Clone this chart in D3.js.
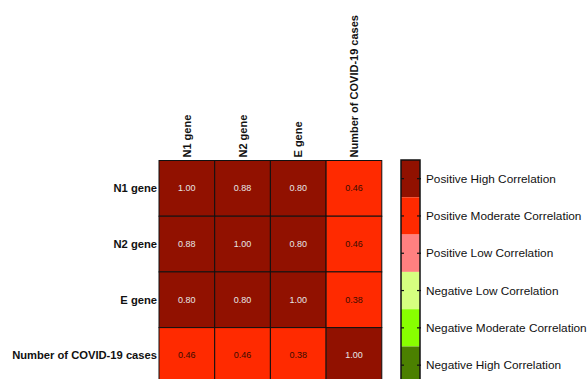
<!DOCTYPE html>
<html>
<head>
<meta charset="utf-8">
<script src="https://cdn.jsdelivr.net/npm/d3@7"></script>
<style>
  body { margin: 0; background: #fff; }
  text { font-family: "Liberation Sans", Arial, sans-serif; }
</style>
</head>
<body>
<div id="chart"></div>
<script>
// Data
var variables = ['N1 gene', 'N2 gene', 'E gene', 'Number of COVID-19 cases'];
var correlations = [
    [1.00, 0.88, 0.80, 0.46],
    [0.88, 1.00, 0.80, 0.46],
    [0.80, 0.80, 1.00, 0.38],
    [0.46, 0.46, 0.38, 1.00]
];
var legend_labels = ['Positive High Correlation', 'Positive Moderate Correlation',
    'Positive Low Correlation', 'Negative Low Correlation',
    'Negative Moderate Correlation', 'Negative High Correlation'];
var legend_colors = ['#911100', '#ff2a00', '#ff8080', '#d6ff80', '#88ff00', '#4b8000'];
var legend_bounds = [0.7, 0.3, 0, -0.3, -0.7];

var chart_width  = 588;
var chart_height = 379;

var svg = d3.select('#chart')
    .append('svg')
    .attr('width', chart_width)
    .attr('height', chart_height);

// cells
var cell = 55.7;
var grid_x = 159;
var grid_y = 160.5;

var x = d3.scaleBand()
    .domain(variables)
    .range([grid_x, grid_x + cell * variables.length]);

var y = d3.scaleBand()
    .domain(variables)
    .range([grid_y, grid_y + cell * variables.length]);

// thresholds from high to low -> colour
var color = d3.scaleThreshold()
    .domain(legend_bounds.slice().reverse())
    .range(legend_colors.slice().reverse());

var cells = [];
correlations.forEach(function(row, i){
    row.forEach(function(v, j){
        cells.push({ row: variables[i], col: variables[j], value: v });
    });
});

svg.append('g')
    .selectAll('rect')
    .data(cells)
    .enter()
    .append('rect')
    .attr('x', function(d){ return x(d.col); })
    .attr('y', function(d){ return y(d.row); })
    .attr('width', x.bandwidth())
    .attr('height', y.bandwidth())
    .attr('fill', function(d){ return color(d.value); })
    .attr('stroke', '#111')
    .attr('stroke-width', 1);

svg.append('g')
    .selectAll('text')
    .data(cells)
    .enter()
    .append('text')
    .attr('x', function(d){ return x(d.col) + x.bandwidth() / 2; })
    .attr('y', function(d){ return y(d.row) + y.bandwidth() / 2 + 3; })
    .attr('text-anchor', 'middle')
    .attr('font-size', '9px')
    .attr('fill', function(d){ return d.value >= 0.7 ? '#e6e6e6' : '#3a0c00'; })
    .text(function(d){ return d.value.toFixed(2); });

// row labels
svg.append('g')
    .selectAll('text')
    .data(variables)
    .enter()
    .append('text')
    .attr('x', grid_x - 2)
    .attr('y', function(d){ return y(d) + y.bandwidth() / 2 + 4; })
    .attr('text-anchor', 'end')
    .attr('font-size', '11.2px')
    .attr('font-weight', 'bold')
    .attr('fill', '#111')
    .text(function(d){ return d; });

// column labels
svg.append('g')
    .selectAll('text')
    .data(variables)
    .enter()
    .append('text')
    .attr('transform', function(d){
        return 'translate(' + (x(d) + x.bandwidth() / 2 + 4) + ',' + (grid_y - 3) + ') rotate(-90)';
    })
    .attr('text-anchor', 'start')
    .attr('font-size', '11px')
    .attr('font-weight', 'bold')
    .attr('fill', '#111')
    .text(function(d){ return d; });

// legend
var legend_x = 401;
var legend_w = 19;
var seg_h = 37.3;
var legend_y = 160;

var ly = d3.scaleBand()
    .domain(legend_labels)
    .range([legend_y, legend_y + seg_h * legend_labels.length]);

var legend = svg.append('g');

legend.selectAll('rect.seg')
    .data(legend_labels)
    .enter()
    .append('rect')
    .attr('class', 'seg')
    .attr('x', legend_x)
    .attr('y', function(d){ return ly(d); })
    .attr('width', legend_w)
    .attr('height', ly.bandwidth())
    .attr('fill', function(d, i){ return legend_colors[i]; });

legend.append('rect')
    .attr('x', legend_x)
    .attr('y', legend_y)
    .attr('width', legend_w)
    .attr('height', seg_h * legend_labels.length)
    .attr('fill', 'none')
    .attr('stroke', '#111')
    .attr('stroke-width', 1.5);

legend.selectAll('line.tl')
    .data(legend_labels)
    .enter()
    .append('line')
    .attr('x1', legend_x)
    .attr('x2', legend_x + 3)
    .attr('y1', function(d){ return ly(d) + ly.bandwidth() / 2; })
    .attr('y2', function(d){ return ly(d) + ly.bandwidth() / 2; })
    .attr('stroke', '#111')
    .attr('stroke-width', 1.2);

legend.selectAll('line.tr')
    .data(legend_labels)
    .enter()
    .append('line')
    .attr('x1', legend_x + legend_w - 3)
    .attr('x2', legend_x + legend_w + 1)
    .attr('y1', function(d){ return ly(d) + ly.bandwidth() / 2; })
    .attr('y2', function(d){ return ly(d) + ly.bandwidth() / 2; })
    .attr('stroke', '#111')
    .attr('stroke-width', 1.2);

legend.selectAll('text')
    .data(legend_labels)
    .enter()
    .append('text')
    .attr('x', legend_x + legend_w + 6)
    .attr('y', function(d){ return ly(d) + ly.bandwidth() / 2 + 4; })
    .attr('font-size', '11.8px')
    .attr('fill', '#111')
    .text(function(d){ return d; });
</script>
</body>
</html>
